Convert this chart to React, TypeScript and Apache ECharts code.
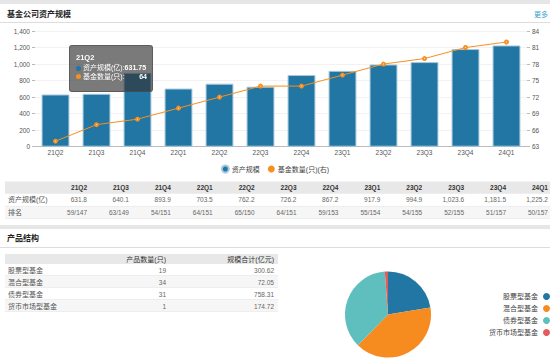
import React, { useEffect, useRef } from "react";
import * as echarts from "echarts";

const quarters = ["21Q2", "21Q3", "21Q4", "22Q1", "22Q2", "22Q3", "22Q4", "23Q1", "23Q2", "23Q3", "23Q4", "24Q1"];
const assetScale = [631.75, 640.1, 893.9, 703.5, 762.2, 726.2, 867.2, 917.9, 994.9, 1023.6, 1181.5, 1225.2];
const fundCount = [64, 67, 68, 70, 72, 74, 74, 76, 78, 79, 81, 82];
const rankLabels = ["59/147", "63/149", "54/151", "64/151", "65/150", "64/151", "59/153", "55/154", "54/155", "52/155", "51/157", "50/157"];
const leftAxis = { min: 0, max: 1400, interval: 200 };
const rightAxis = { min: 63, max: 84, interval: 3 };
const productTypes = ["股票型基金", "混合型基金", "债券型基金", "货币市场型基金"];
const productCounts = [19, 34, 31, 1];
const productScale = [300.62, 72.05, 758.31, 174.72];

const FF = '"Liberation Sans","Noto Sans CJK SC",sans-serif';
const BLUE = "#2176a3";
const ORANGE = "#f7901e";
const PIE_COLORS = ["#2176a3", "#f68b1f", "#5fbfbf", "#e55b5b"];

function fmt1(v: number) {
  return v.toLocaleString("en-US", { minimumFractionDigits: 1, maximumFractionDigits: 1 });
}

function txt(text: string, x: number, y: number, opts: any = {}) {
  const size = opts.size ?? 7;
  const weight = opts.bold ? "bold " : "";
  const align = opts.align ?? "left";
  return {
    type: "text",
    silent: true,
    style: {
      text,
      x,
      y,
      font: `${weight}${size}px ${FF}`,
      fill: opts.color ?? "#555",
      align,
      textAlign: align,
      verticalAlign: "middle",
      textVerticalAlign: "middle",
    },
  };
}

function rect(x: number, y: number, w: number, h: number, fill: string) {
  return { type: "rect", silent: true, shape: { x, y, width: w, height: h }, style: { fill } };
}

function line(x1: number, y1: number, x2: number, y2: number, stroke: string) {
  return { type: "line", silent: true, shape: { x1, y1, x2, y2 }, style: { stroke, lineWidth: 1 } };
}

function buildGraphics() {
  const els: any[] = [];
  els.push(rect(0, 0, 550, 4, "#e6e6e6"));
  els.push(txt("基金公司资产规模", 7, 14, { bold: true, size: 8, color: "#222" }));
  els.push(txt("更多", 548, 14, { size: 7, color: "#3a9fcf", align: "right" }));
  els.push(line(0, 22.5, 550, 22.5, "#dddddd"));

  const t1Top = 181.5;
  const rowH = 12.2;
  els.push(rect(5, t1Top, 545, rowH, "#e8e8e8"));
  els.push(rect(5, t1Top + rowH * 2, 545, rowH, "#f6f6f6"));
  els.push(line(5, t1Top + rowH * 2 + 0.5, 550, t1Top + rowH * 2 + 0.5, "#eeeeee"));
  els.push(line(5, t1Top + rowH * 3 + 0.5, 550, t1Top + rowH * 3 + 0.5, "#eeeeee"));
  els.push(txt("资产规模(亿)", 8, t1Top + rowH * 1.5, { color: "#555" }));
  els.push(txt("排名", 8, t1Top + rowH * 2.5, { color: "#555" }));
  quarters.forEach((q, i) => {
    const xr = 87 + i * 41.9;
    els.push(txt(q, xr, t1Top + rowH * 0.5, { bold: true, size: 6.5, color: "#333", align: "right" }));
    els.push(txt(fmt1(assetScale[i]), xr, t1Top + rowH * 1.5, { size: 6.5, color: "#666", align: "right" }));
    els.push(txt(rankLabels[i], xr, t1Top + rowH * 2.5, { size: 6.5, color: "#666", align: "right" }));
  });

  els.push(rect(0, 225, 550, 4, "#e6e6e6"));
  els.push(txt("产品结构", 7, 238.5, { bold: true, size: 8, color: "#222" }));
  els.push(line(0, 247.5, 550, 247.5, "#dddddd"));

  const t2Top = 254;
  const r2H = 12;
  els.push(rect(5, t2Top, 273, 10, "#e8e8e8"));
  els.push(txt("产品数量(只)", 166, t2Top + 5, { size: 7, color: "#333", align: "right" }));
  els.push(txt("规模合计(亿元)", 274, t2Top + 5, { size: 7, color: "#333", align: "right" }));
  productTypes.forEach((name, i) => {
    const top = t2Top + 10 + i * r2H;
    if (i % 2 === 1) els.push(rect(5, top, 273, r2H, "#f6f6f6"));
    els.push(line(5, top + r2H - 0.5, 278, top + r2H - 0.5, "#eeeeee"));
    const cy = top + r2H / 2;
    els.push(txt(name, 8, cy, { color: "#555" }));
    els.push(txt(String(productCounts[i]), 166, cy, { size: 6.5, color: "#666", align: "right" }));
    els.push(txt(productScale[i].toFixed(2), 274, cy, { size: 6.5, color: "#666", align: "right" }));
  });
  return els;
}

export default function App() {
  const ref = useRef<HTMLDivElement>(null);
  useEffect(() => {
    document.body.style.margin = "0";
    if (!ref.current) return;
    const chart = echarts.init(ref.current, undefined, { renderer: "svg" });
    const dot = (c: string) =>
      `<span style="display:inline-block;width:5px;height:5px;border-radius:50%;background:${c};margin-right:2px;vertical-align:middle"></span>`;
    chart.setOption({
      animation: false,
      textStyle: { fontFamily: FF },
      tooltip: {
        trigger: "axis",
        axisPointer: { type: "none" },
        alwaysShowContent: true,
        triggerOn: "none",
        position: [69, 45],
        backgroundColor: "rgba(50,50,50,0.65)",
        borderColor: "rgba(80,80,80,0.7)",
        borderWidth: 1,
        borderRadius: 3,
        padding: [7, 5, 10, 6],
        textStyle: { color: "#fff", fontSize: 7, fontFamily: FF },
        extraCssText: "box-shadow:none;width:71px;",
        formatter: (params: any) => {
          const i = (params as any[])[0].dataIndex;
          return (
            `<div style="font-weight:bold;font-size:7.5px;line-height:9px;margin-bottom:1px">${quarters[i]}</div>` +
            `<div style="line-height:9px;font-size:7px;white-space:nowrap">${dot(BLUE)}资产规模(亿):<b>${assetScale[i]}</b></div>` +
            `<div style="line-height:9px;font-size:7px;display:flex;align-items:center;white-space:nowrap">${dot(ORANGE)}基金数量(只):<b style="margin-left:auto">${fundCount[i]}</b></div>`
          );
        },
      },
      legend: [
        {
          data: ["资产规模", "基金数量(只)(右)"],
          top: 164.5,
          left: "center",
          padding: 0,
          icon: "circle",
          itemWidth: 7,
          itemHeight: 7,
          itemGap: 8,
          textStyle: { fontSize: 7, color: "#444", fontFamily: FF, padding: [0, 0, 0, -2] },
        },
        {
          data: productTypes,
          orient: "vertical",
          right: 0,
          top: 293,
          padding: 0,
          align: "right",
          icon: "circle",
          itemWidth: 7,
          itemHeight: 7,
          itemGap: 5,
          textStyle: { fontSize: 7, color: "#444", fontFamily: FF },
        },
      ],
      grid: { left: 35, right: 23, top: 31, bottom: 217.3, containLabel: false, outerBoundsMode: "none" },
      xAxis: {
        type: "category",
        data: quarters,
        axisLine: { lineStyle: { color: "#bbbbbb" } },
        axisTick: { lineStyle: { color: "#bbbbbb" }, length: 3 },
        axisLabel: { fontSize: 6.5, color: "#555", margin: 3, fontFamily: FF },
      },
      yAxis: [
        {
          type: "value",
          min: leftAxis.min,
          max: leftAxis.max,
          interval: leftAxis.interval,
          axisLine: { show: false },
          axisTick: { show: true, length: 3, lineStyle: { color: "#bbbbbb" } },
          axisLabel: {
            fontSize: 6.5,
            color: "#555",
            margin: 5,
            fontFamily: FF,
            formatter: (v: number) => v.toLocaleString("en-US"),
          },
          splitLine: { lineStyle: { color: "#f2f2f2" } },
        },
        {
          type: "value",
          min: rightAxis.min,
          max: rightAxis.max,
          interval: rightAxis.interval,
          axisLine: { show: false },
          axisTick: { show: true, length: 3, lineStyle: { color: "#bbbbbb" } },
          axisLabel: { fontSize: 6.5, color: "#555", margin: 5, fontFamily: FF },
          splitLine: { show: false },
        },
      ],
      series: [
        {
          name: "资产规模",
          type: "bar",
          data: assetScale,
          barWidth: "68%",
          emphasis: { disabled: true },
          itemStyle: { color: BLUE, borderColor: "#a9c8dc", borderWidth: 1 },
        },
        {
          name: "基金数量(只)(右)",
          type: "line",
          yAxisIndex: 1,
          data: fundCount,
          symbol: "emptyCircle",
          symbolSize: 3,
          emphasis: { disabled: true, scale: false },
          lineStyle: { color: ORANGE, width: 1 },
          itemStyle: { color: ORANGE, borderWidth: 1 },
        },
        {
          name: "产品结构",
          type: "pie",
          center: [388, 314.5],
          radius: 43,
          startAngle: 90,
          label: { show: false },
          labelLine: { show: false },
          color: PIE_COLORS,
          itemStyle: { borderWidth: 0 },
          data: productTypes.map((n, i) => ({ name: n, value: productCounts[i] })),
        },
      ],
      graphic: { elements: buildGraphics() },
    });
    chart.dispatchAction({ type: "showTip", seriesIndex: 0, dataIndex: 0 });
    return () => chart.dispose();
  }, []);
  return <div ref={ref} style={{ width: 550, height: 364 }} />;
}
